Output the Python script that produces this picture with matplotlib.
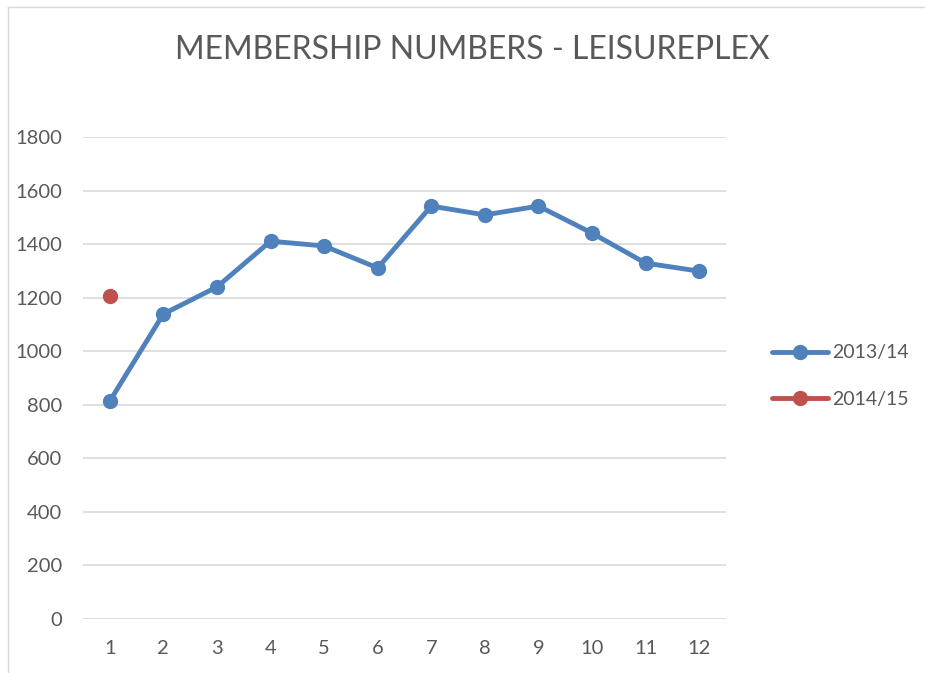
import matplotlib.pyplot as plt
from matplotlib.lines import Line2D

months = list(range(1, 13))
members_1314 = [814, 1139, 1240, 1411, 1393, 1311, 1542, 1509, 1542, 1441, 1329, 1299]
months_1415 = [1]
members_1415 = [1206]
yticks = [0, 200, 400, 600, 800, 1000, 1200, 1400, 1600, 1800]

plt.rcParams['font.family'] = ['Lato', 'DejaVu Sans']
txt = '#595959'
blue = '#4F81BD'
red = '#C0504D'

fig = plt.figure(figsize=(9.25, 6.73), dpi=100)
ax = fig.add_axes([83/925, 1 - 619/673, (726-83)/925, (619-137)/673])

ax.plot(months, members_1314, color=blue, lw=3.5, marker='o', ms=10,
        label='2013/14', solid_capstyle='round', zorder=3)
ax.plot(months_1415, members_1415, color=red, lw=3.5, marker='o', ms=10,
        label='2014/15', zorder=3)

ax.set_xlim(0.5, 12.5)
ax.set_ylim(0, 1800)
ax.set_xticks(months)
ax.set_yticks(yticks)
ax.grid(axis='y', color='#D9D9D9', lw=1.2)
ax.set_axisbelow(True)
for s in ax.spines.values():
    s.set_visible(False)
ax.tick_params(length=0, labelsize=14.5, colors=txt)
ax.tick_params(axis='y', pad=15)
ax.tick_params(axis='x', pad=15)

fig.text(472/925, 1 - 50/673, 'MEMBERSHIP NUMBERS - LEISUREPLEX', ha='center', va='center',
         fontsize=23, color=txt)

leg = fig.legend(loc='center left', bbox_to_anchor=(754/925, 1 - 376/673), frameon=False,
                 fontsize=14, labelcolor=txt, handlelength=2.9, handletextpad=0.2, labelspacing=1.5)
for h in leg.legend_handles:
    h.set_solid_capstyle('round')

# chart border
fig.add_artist(Line2D([8/925, 8/925], [0, 1 - 7/673], transform=fig.transFigure, color='#D9D9D9', lw=1))
fig.add_artist(Line2D([8/925, 1], [1 - 7/673, 1 - 7/673], transform=fig.transFigure, color='#D9D9D9', lw=1))

plt.savefig('out.png', dpi=100)
